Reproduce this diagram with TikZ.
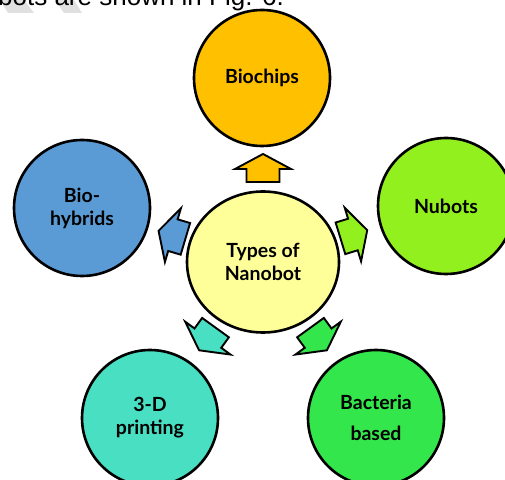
\documentclass[tikz,border=0pt]{standalone}
\usepackage{fontspec}
\setmainfont{Liberation Sans}
\newfontfamily\typefont{Lato}
\usetikzlibrary{calc,positioning,shapes.geometric}

\definecolor{chipcol}{HTML}{FFC000}
\definecolor{nubcol}{HTML}{93F01F}
\definecolor{hybcol}{HTML}{5B9BD5}
\definecolor{printcol}{HTML}{48DFC2}
\definecolor{bactcol}{HTML}{33E64B}
\definecolor{corecol}{HTML}{FFFF99}

\tikzset{
  bubble/.style={draw, line width=2.6pt, circle, minimum size=136pt, inner sep=0pt,
    align=center, font=\typefont\bfseries\fontsize{19.5}{23}\selectfont},
  pics/typearrow/.style={code={
    \draw[line width=1.9pt, fill=#1, line join=miter]
      (0,-16.5) -- (13,-16.5) -- (13,-28) -- (28,0) -- (13,28) -- (13,16.5) -- (0,16.5) -- cycle;}}
}

\begin{document}
\begin{tikzpicture}[x=1pt, y=1pt]
    \useasboundingbox (0,0) rectangle (505,479);
    \clip (0,0) rectangle (505,479);

    % Riga di testo tagliata in alto
    \fill[black!12] (0,479) -- (24,479) -- (34,466) -- (8,466) -- cycle;
    \fill[black!12] (55,479) -- (74,479) -- (82,466) -- (64,466) -- cycle;
    \node[anchor=base west, inner sep=0pt, font=\fontsize{26}{30}\selectfont] (caption) at (-2,473) {bots are shown in Fig. 6.};

    % Cerchio centrale
    \node[bubble, ellipse, minimum width=152pt, minimum height=141pt, fill=corecol] (core) at (263,217) {Types of\\Nanobot};

    % Cerchi esterni
    \node[bubble, fill=chipcol] (chips) at (262,401) {Biochips};
    \node[bubble, fill=nubcol] (nubots) at (446,273) {Nubots};
    \node[bubble, fill=hybcol] (hybrids) at (82,271) {Bio-\\hybrids};
    \node[bubble, fill=printcol] (printing) at (150,61) {3-D\\printing};
    \node[bubble, fill=bactcol] (bacteria) at (376,61) {Bacteria\\[8pt]based};

    % Frecce dal centro verso ogni tipo
    \pic[rotate=90] at ($(core.center)+(90:80)$) {typearrow=chipcol};
    \pic[rotate=17] at ($(core.center)+(17:81)$) {typearrow=nubcol};
    \pic[rotate=163.4] at ($(core.center)+(163.4:81)$) {typearrow=hybcol};
    \pic[rotate=-125.9] at ($(core.center)+(-125.9:81)$) {typearrow=printcol};
    \pic[rotate=-54.1] at ($(core.center)+(-54.1:81)$) {typearrow=bactcol};
\end{tikzpicture}
\end{document}
